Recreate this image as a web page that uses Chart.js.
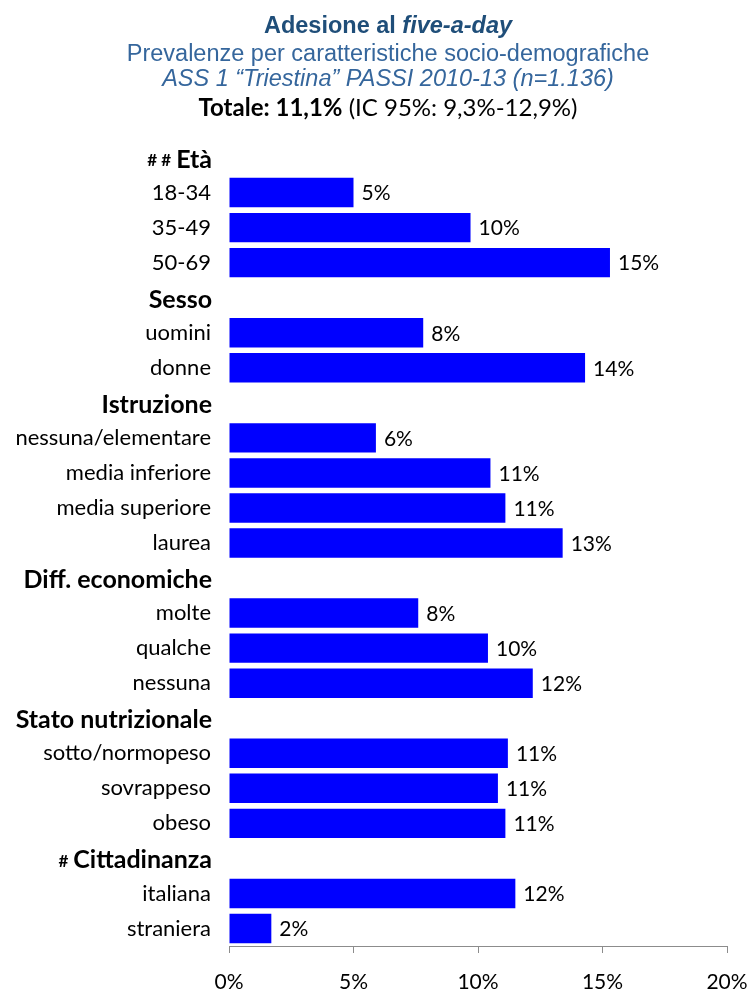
<!DOCTYPE html>
<html>
<head>
<meta charset="utf-8">
<script src="https://cdn.jsdelivr.net/npm/chart.js@4"></script>
<style>
  body { margin: 0; background: #fff; }
  #wrap { position: relative; width: 747px; height: 992px; }
  .tl { position: absolute; left: 0; width: 776px; text-align: center; white-space: nowrap; }
  #t1 { top: 12px; line-height: 28px; font: bold 23.5px "Liberation Sans", Arial, sans-serif; color: #1F4E79; }
  #t2 { top: 40px; line-height: 28px; font: 23.5px "Liberation Sans", Arial, sans-serif; color: #35669C; }
  #t3 { top: 65px; line-height: 28px; font: italic 23.5px "Liberation Sans", Arial, sans-serif; color: #35669C; }
  #t4 { top: 92px; line-height: 28px; font: 24px Lato, sans-serif; color: #000; }
  canvas { position: absolute; left: 0; top: 0; }
</style>
</head>
<body>
<div id="wrap">
  <canvas id="fiveChart" width="747" height="992"></canvas>
  <div class="tl" id="t1">Adesione al <i>five-a-day</i></div>
  <div class="tl" id="t2">Prevalenze per caratteristiche socio-demografiche</div>
  <div class="tl" id="t3">ASS 1 “Triestina” PASSI 2010-13 (n=1.136)</div>
  <div class="tl" id="t4"><b>Totale: 11,1%</b> (IC 95%: 9,3%-12,9%)</div>
</div>
<script>
// rows of the chart, group headings included (they have no bar)
const categories = [
  "Età", "18-34", "35-49", "50-69",
  "Sesso", "uomini", "donne",
  "Istruzione", "nessuna/elementare", "media inferiore", "media superiore", "laurea",
  "Diff. economiche", "molte", "qualche", "nessuna",
  "Stato nutrizionale", "sotto/normopeso", "sovrappeso", "obeso",
  "Cittadinanza", "italiana", "straniera"
];
const values = [
  null, 5.0, 9.7, 15.3,
  null, 7.8, 14.3,
  null, 5.9, 10.5, 11.1, 13.4,
  null, 7.6, 10.4, 12.2,
  null, 11.2, 10.8, 11.1,
  null, 11.5, 1.7
];
const headerRows = [0, 4, 7, 12, 16, 20];
const headerMarks = ["# #", "", "", "", "", "#"];
const xTicks = [0, 5, 10, 15, 20];

// percent labels at the end of each bar
const valueLabels = {
  id: "valueLabels",
  afterDatasetsDraw(chart) {
    const ctx = chart.ctx;
    const meta = chart.getDatasetMeta(0);
    ctx.save();
    ctx.font = "21px Lato, sans-serif";
    ctx.fillStyle = "#000";
    ctx.textAlign = "left";
    ctx.textBaseline = "middle";
    meta.data.forEach((bar, i) => {
      if (values[i] === null) return;
      ctx.fillText(Math.round(values[i]) + "%", bar.x + 8, bar.y + 1);
    });
    ctx.restore();
  },
};

// bold group headings, with the small # marks in front
const groupHeaders = {
  id: "groupHeaders",
  afterDraw(chart) {
    const ctx = chart.ctx;
    const yScale = chart.scales.y;
    const right = yScale.right - 17;
    ctx.save();
    ctx.fillStyle = "#000";
    ctx.textAlign = "right";
    ctx.textBaseline = "middle";
    headerRows.forEach((row, k) => {
      const y = yScale.getPixelForValue(row) + 2;
      ctx.font = "bold 25px Lato, sans-serif";
      ctx.fillText(categories[row], right, y);
      const w = ctx.measureText(categories[row]).width;
      if (headerMarks[k]) {
        ctx.font = "bold 17px Lato, sans-serif";
        ctx.fillText(headerMarks[k], right - w - 5, y + 1);
      }
    });
    ctx.restore();
  },
};

new Chart(document.getElementById("fiveChart"), {
  type: "bar",
  data: {
    labels: categories,
    datasets: [
      {
        data: values,
        backgroundColor: "#0000FF",
        categoryPercentage: 1,
        barPercentage: 0.84,
      },
    ],
  },
  options: {
    indexAxis: "y",
    responsive: false,
    animation: false,
    layout: { padding: { top: 140, right: 20, bottom: 0, left: 0 } },
    plugins: {
      legend: { display: false },
      tooltip: { enabled: false },
    },
    scales: {
      x: {
        min: 0,
        max: 20,
        afterBuildTicks(scale) {
          scale.ticks = xTicks.map((v) => ({ value: v }));
        },
        afterFit(scale) {
          // end labels may overhang; keep the axis at full width
          scale.height = 46;
          scale.paddingLeft = 0;
          scale.paddingRight = 0;
        },
        grid: {
          drawOnChartArea: false,
          drawTicks: true,
          tickLength: 7,
          color: "#8c8c8c",
        },
        border: { display: true, color: "#8c8c8c" },
        ticks: {
          padding: 17,
          color: "#000",
          font: { family: "Lato", size: 21 },
          callback: (v) => v + "%",
        },
      },
      y: {
        afterFit(scale) {
          scale.width = 229;
        },
        grid: { display: false },
        border: { display: false },
        ticks: {
          padding: 10,
          color: "#000",
          font: { family: "Lato", size: 22 },
          autoSkip: false,
          callback: (v, i) => (headerRows.includes(i) ? "" : categories[i]),
        },
      },
    },
  },
  plugins: [valueLabels, groupHeaders],
});
</script>
</body>
</html>
